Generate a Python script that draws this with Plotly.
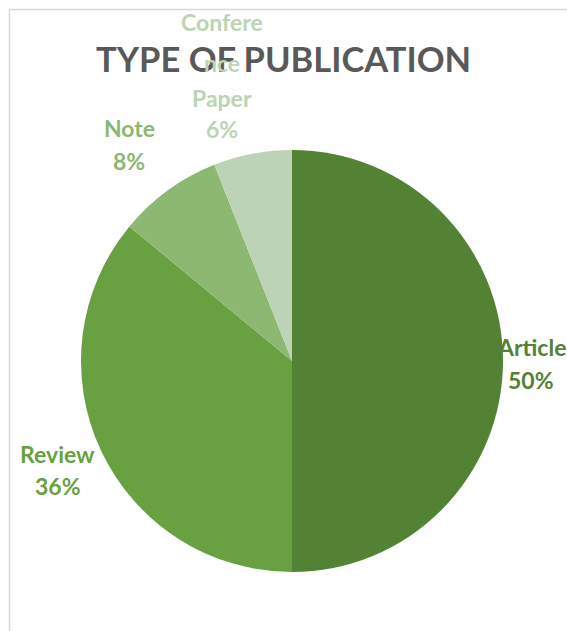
import plotly.graph_objects as go

# Publication types and their shares (percent)
categories = ["Article", "Review", "Note", "Conference Paper"]
shares = [50, 36, 8, 6]
label_lines = [["Article"], ["Review"], ["Note"], ["Confere", "nce", "Paper"]]
colors = ["#548235", "#69a042", "#8db872", "#bcd4b5"]

W, H = 567, 631

fig = go.Figure(
    go.Pie(
        labels=categories,
        values=shares,
        sort=False,
        direction="clockwise",
        rotation=0,
        marker=dict(colors=colors, line=dict(width=0)),
        textinfo="none",
        hoverinfo="label+percent",
        domain=dict(x=[(292 - 211) / W, (292 + 211) / W],
                    y=[1 - 572 / H, 1 - 150 / H]),
        showlegend=False,
    )
)

# chart title (drawn first so slice labels sit above it)
fig.add_annotation(
    x=283.5 / W, y=1 - 58 / H, xref="paper", yref="paper",
    text="<b>TYPE OF PUBLICATION</b>", showarrow=False,
    xanchor="center", yanchor="middle",
    font=dict(family="Lato", size=34.5, color="#595959"),
)

# slice label placement: x centre and the y centre of each text line (pixels)
label_x = [531, 57.5, 129, 222]
label_line_y = [[347, 380], [454, 486], [128, 161], [22.5, 63, 97.5, 128.5]]
for name_lines, val, col, px, ys in zip(label_lines, shares, colors, label_x, label_line_y):
    lines = name_lines + [f"{val}%"]
    for ln, ly in zip(lines, ys):
        fig.add_annotation(
            x=px / W, y=1 - ly / H, xref="paper", yref="paper",
            text=f"<b>{ln}</b>", showarrow=False,
            xanchor="center", yanchor="middle",
            font=dict(family="Lato", size=23, color=col),
        )

# chart-area frame lines
fig.add_shape(type="line", xref="paper", yref="paper",
              x0=9.5 / W, x1=1, y0=1 - 9.5 / H, y1=1 - 9.5 / H,
              line=dict(color="#d9d9d9", width=1.5))
fig.add_shape(type="line", xref="paper", yref="paper",
              x0=9.5 / W, x1=9.5 / W, y0=0, y1=1 - 9.5 / H,
              line=dict(color="#d9d9d9", width=1.5))

fig.update_layout(
    width=W, height=H,
    margin=dict(l=0, r=0, t=0, b=0),
    paper_bgcolor="white",
    plot_bgcolor="white",
)

fig.write_html("out.html")
